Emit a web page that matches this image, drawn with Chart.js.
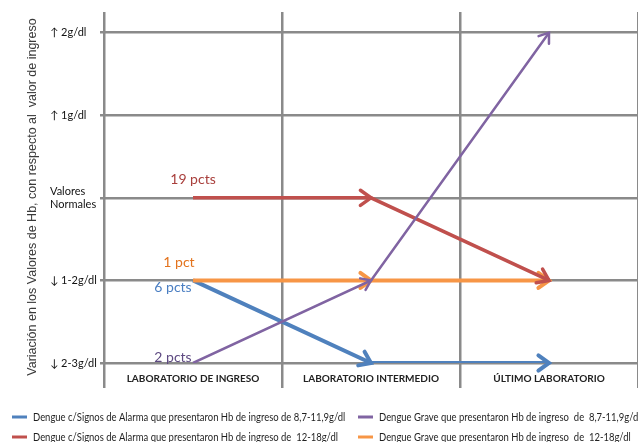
<!DOCTYPE html>
<html>
<head>
<meta charset="utf-8">
<script src="https://cdn.jsdelivr.net/npm/chart.js@4"></script>
<style>
  html, body { margin: 0; padding: 0; background: #ffffff; }
  #wrap { width: 638px; height: 442px; position: relative; }
</style>
</head>
<body>
<div id="wrap"><canvas id="c"></canvas></div>
<script>
// Stages of the laboratory follow-up
const categories = ['LABORATORIO DE INGRESO', 'LABORATORIO INTERMEDIO', 'ÚLTIMO LABORATORIO'];

// Hb variation levels, bottom to top (index = level on the y scale)
const levelLabels = ['↓ 2-3g/dl', '↓ 1-2g/dl', ['Valores', 'Normales'], '↑ 1g/dl', '↑ 2g/dl'];

// Level reached by each group at each stage
const alarmaHbBaja   = [1, 0, 0];   // c/Signos de Alarma, Hb 8,7-11,9
const alarmaHbNormal = [2, 2, 1];   // c/Signos de Alarma, Hb 12-18
const graveHbBaja    = [0, 1, 4];   // Grave, Hb 8,7-11,9
const graveHbNormal  = [1, 1, 1];   // Grave, Hb 12-18

// Number of patients in each group
const groupCounts = ['6 pcts', '19 pcts', '2 pcts', '1 pct'];

const seriesNames = [
  'Dengue c/Signos de Alarma que presentaron Hb de ingreso de 8,7-11,9g/dl',
  'Dengue c/Signos de Alarma que presentaron Hb de ingreso de  12-18g/dl',
  'Dengue Grave que presentaron Hb de ingreso  de  8,7-11,9g/dl',
  'Dengue Grave que presentaron Hb de ingreso  de  12-18g/dl'
];

const axisTitle = 'Variación en los Valores de Hb, con respecto al  valor de ingreso';

const lineColors  = ['#4F81BD', '#C0504D', '#8064A2', '#F79646'];
const countColors = ['#4A7EC2', '#A93F3C', '#5E4A82', '#E3731D'];
const lineWidths  = [4, 3.5, 2.5, 4];
const drawOrder   = [3, 1, 0, 2];
// pixel offsets of the count labels from each series' starting point
const countOffsets = [[-20, 7], [0, -18], [-20, -6], [-14, -18]];

const seriesValues = [alarmaHbBaja, alarmaHbNormal, graveHbBaja, graveHbNormal];

const datasets = seriesValues.map((vals, i) => ({
  label: seriesNames[i],
  data: vals,
  borderColor: lineColors[i],
  backgroundColor: lineColors[i],
  borderWidth: lineWidths[i],
  pointRadius: 0,
  pointHoverRadius: 0,
  tension: 0,
  fill: false,
  order: drawOrder[i],
  borderCapStyle: 'butt',
  borderJoinStyle: 'miter'
}));

function drawArrowHead(ctx, x0, y0, x1, y1, len, color, w) {
  const a = Math.atan2(y1 - y0, x1 - x0);
  const s = 0.62;
  ctx.save();
  ctx.strokeStyle = color;
  ctx.lineWidth = w;
  ctx.lineCap = 'round';
  ctx.lineJoin = 'miter';
  ctx.beginPath();
  ctx.moveTo(x1 - len * Math.cos(a - s), y1 - len * Math.sin(a - s));
  ctx.lineTo(x1, y1);
  ctx.lineTo(x1 - len * Math.cos(a + s), y1 - len * Math.sin(a + s));
  ctx.stroke();
  ctx.restore();
}

// Open arrow heads at the end of every segment, drawn with their own line
const arrowPlugin = {
  id: 'segmentArrows',
  afterDatasetDraw(chart, args) {
    const ds = chart.data.datasets[args.index];
    const pts = args.meta.data;
    const ctx = chart.ctx;
    const w = ds.borderWidth;
    const len = w >= 3.5 ? 13 : 11;
    for (let i = 1; i < pts.length; i++) {
      drawArrowHead(ctx, pts[i - 1].x, pts[i - 1].y, pts[i].x, pts[i].y, len, ds.borderColor, w);
    }
  }
};

// Patient counts next to the starting point of each series
const countPlugin = {
  id: 'groupCounts',
  afterDatasetsDraw(chart) {
    const ctx = chart.ctx;
    ctx.save();
    ctx.font = '14px Lato, "Open Sans", sans-serif';
    ctx.textAlign = 'center';
    ctx.textBaseline = 'middle';
    chart.data.datasets.forEach((ds, i) => {
      const p = chart.getDatasetMeta(i).data[0];
      ctx.fillStyle = countColors[i];
      ctx.fillText(groupCounts[i], p.x + countOffsets[i][0], p.y + countOffsets[i][1]);
    });
    ctx.restore();
  }
};

// Rotated y-axis title and the two-column legend under the chart
const framePlugin = {
  id: 'frameTexts',
  afterDraw(chart) {
    const ctx = chart.ctx;
    ctx.save();
    ctx.translate(33, 197);
    ctx.rotate(-Math.PI / 2);
    ctx.font = '12.5px "Liberation Sans", Arial, sans-serif';
    ctx.fillStyle = '#3a3a3a';
    ctx.textAlign = 'center';
    ctx.textBaseline = 'middle';
    ctx.fillText(axisTitle, 0, 0);
    ctx.restore();

    const colX = [12, 358];
    const rowY = [417, 437];
    const squeeze = 0.86;   // narrow legend lettering
    ctx.save();
    ctx.font = '11px Lato, "Open Sans", sans-serif';
    ctx.textBaseline = 'middle';
    ctx.textAlign = 'left';
    chart.data.datasets.forEach((ds, i) => {
      const x = colX[Math.floor(i / 2)];
      const y = rowY[i % 2];
      ctx.strokeStyle = ds.borderColor;
      ctx.lineWidth = 3;
      ctx.beginPath();
      ctx.moveTo(x, y);
      ctx.lineTo(x + 15, y);
      ctx.stroke();
      ctx.save();
      ctx.translate(x + 21, y);
      ctx.scale(squeeze, 1);
      ctx.fillStyle = '#1f1f1f';
      ctx.fillText(ds.label, 0, 0);
      ctx.restore();
    });
    ctx.restore();
  }
};

new Chart(document.getElementById('c'), {
  type: 'line',
  data: { labels: categories, datasets },
  plugins: [arrowPlugin, countPlugin, framePlugin],
  options: {
    responsive: true,
    maintainAspectRatio: false,
    animation: false,
    layout: { padding: { top: 12, left: 50, right: -2, bottom: 0 } },
    plugins: {
      legend: { display: false },
      tooltip: { enabled: false }
    },
    scales: {
      x: {
        type: 'category',
        offset: true,
        afterFit(scale) { scale.height = 79; },
        grid: {
          offset: true,
          color: '#8a8a8a',
          lineWidth: 2.5,
          drawTicks: true,
          tickLength: 25,
          tickColor: '#8a8a8a',
          tickWidth: 2.5
        },
        border: { display: false },
        ticks: {
          padding: -15,
          color: '#222222',
          font: { family: 'Lato, "Open Sans", sans-serif', size: 10, weight: 'bold' },
          maxRotation: 0,
          autoSkip: false
        }
      },
      y: {
        min: 0,
        max: 4.25,
        afterFit(scale) { scale.width = 54; },
        afterBuildTicks(scale) {
          scale.ticks = levelLabels.map((_, i) => ({ value: i }));
        },
        grid: {
          color: '#8a8a8a',
          lineWidth: 2.5,
          tickLength: 4,
          tickColor: '#8a8a8a'
        },
        border: { display: false },
        ticks: {
          crossAlign: 'far',
          color: '#111111',
          font: { family: 'Lato, "Open Sans", sans-serif', size: 11 },
          callback(value) { return levelLabels[value]; }
        }
      }
    }
  }
});
</script>
</body>
</html>
